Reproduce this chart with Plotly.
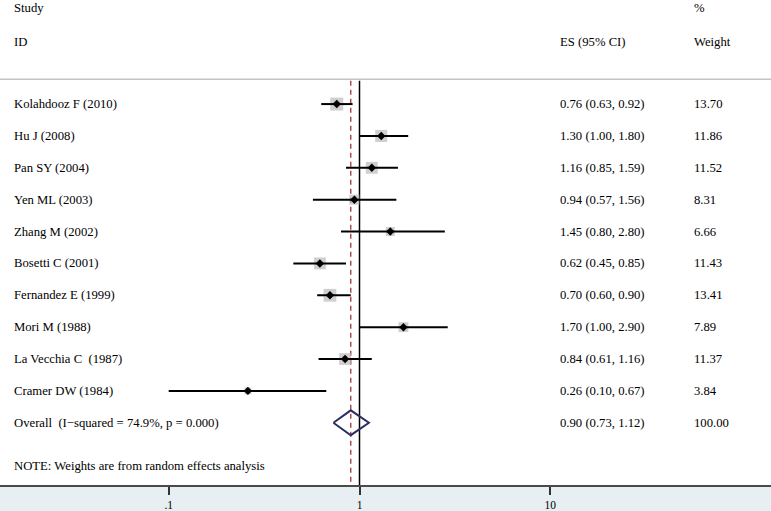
import numpy as np
import plotly.graph_objects as go

studies = ["Kolahdooz F (2010)", "Hu J (2008)", "Pan SY (2004)", "Yen ML (2003)",
           "Zhang M (2002)", "Bosetti C (2001)", "Fernandez E (1999)", "Mori M (1988)",
           "La Vecchia C  (1987)", "Cramer DW (1984)"]
es = [0.76, 1.30, 1.16, 0.94, 1.45, 0.62, 0.70, 1.70, 0.84, 0.26]
lo = [0.63, 1.00, 0.85, 0.57, 0.80, 0.45, 0.60, 1.00, 0.61, 0.10]
hi = [0.92, 1.80, 1.59, 1.56, 2.80, 0.85, 0.90, 2.90, 1.16, 0.67]
weights = [13.70, 11.86, 11.52, 8.31, 6.66, 11.43, 13.41, 7.89, 11.37, 3.84]

overall_label = "Overall  (I\u2212squared = 74.9%, p = 0.000)"
overall_es, overall_lo, overall_hi = 0.90, 0.73, 1.12
overall_weight = "100.00"
note = "NOTE: Weights are from random effects analysis"
tick_vals = [0.1, 1, 10]
tick_text = [".1", "1", "10"]

W, H = 771, 511
FONT = "Liberation Serif"
FS = 12.7
rows = list(range(len(studies)))
overall_row = len(studies)

# pixel geometry of layout
PLOT_BOTTOM = 487
ROW0 = 104.5
ROWH = 32.0
def yrow(px):
    return (px - ROW0) / ROWH

fig = go.Figure()

# reference lines
y_top, y_bot = yrow(81), yrow(PLOT_BOTTOM)
fig.add_trace(go.Scatter(x=[1, 1], y=[y_top, y_bot], mode="lines",
                         line=dict(color="black", width=1.5), hoverinfo="skip", showlegend=False))
fig.add_trace(go.Scatter(x=[overall_es, overall_es], y=[y_top, y_bot], mode="lines",
                         line=dict(color="#a0353a", width=1.3, dash="5px,4px"),
                         hoverinfo="skip", showlegend=False))

# weight boxes
fig.add_trace(go.Scatter(x=es, y=rows, mode="markers",
                         marker=dict(symbol="square", color="#bababa",
                                     size=[3.5 * np.sqrt(w) for w in weights],
                                     line=dict(width=0)),
                         hoverinfo="skip", showlegend=False))
# CI lines + point estimates
fig.add_trace(go.Scatter(x=es, y=rows, mode="markers",
                         marker=dict(symbol="diamond", color="black", size=6.5),
                         error_x=dict(type="data", symmetric=False,
                                      array=[h - e for h, e in zip(hi, es)],
                                      arrayminus=[e - l for e, l in zip(es, lo)],
                                      width=0, thickness=2, color="black"),
                         hoverinfo="skip", showlegend=False))
# overall diamond
dh = 0.39
fig.add_trace(go.Scatter(x=[overall_lo, overall_es, overall_hi, overall_es, overall_lo],
                         y=[overall_row, overall_row - dh, overall_row, overall_row + dh, overall_row],
                         mode="lines", line=dict(color="#2c2f62", width=2),
                         hoverinfo="skip", showlegend=False))

ann = []
def txt(xpx, y, s, size=FS):
    ann.append(dict(x=xpx / W, xref="paper", y=y, yref="y", text=s, showarrow=False,
                    xanchor="left", yanchor="middle", font=dict(family=FONT, size=size, color="black")))

txt(12, yrow(8), "Study")
txt(12, yrow(42), "ID")
txt(558, yrow(42), "ES (95% CI)")
txt(692, yrow(8), "%")
txt(692, yrow(42), "Weight")
for i, s in enumerate(studies):
    txt(12, i, s)
    txt(558, i, f"{es[i]:.2f} ({lo[i]:.2f}, {hi[i]:.2f})")
    txt(692, i, f"{weights[i]:.2f}")
txt(12, overall_row, overall_label)
txt(558, overall_row, f"{overall_es:.2f} ({overall_lo:.2f}, {overall_hi:.2f})")
txt(692, overall_row, overall_weight)
txt(12, yrow(468), note)

X1PX, DEC = 359.5, 190.8
x0 = -X1PX / DEC
x1 = (W - X1PX) / DEC

fig.update_layout(
    width=W, height=H,
    margin=dict(l=0, r=0, t=0, b=H - PLOT_BOTTOM),
    paper_bgcolor="#e7eff2", plot_bgcolor="white",
    annotations=ann,
    shapes=[dict(type="line", xref="paper", yref="y", x0=0, x1=1, y0=yrow(79.5), y1=yrow(79.5),
                 line=dict(color="#c4c4c4", width=1.5))],
    xaxis=dict(type="log", range=[x0, x1], tickvals=tick_vals, ticktext=tick_text,
               ticks="outside", ticklen=8, tickwidth=1.5, tickcolor="#333",
               showgrid=False, zeroline=False, showline=True, linecolor="#4a4a4a", linewidth=2,
               tickfont=dict(family=FONT, size=11.5, color="black")),
    yaxis=dict(range=[y_bot, yrow(0)], showgrid=False, zeroline=False, showticklabels=False,
               showline=False),
)

fig.write_html("out.html", config={"displayModeBar": False},
               post_script="document.body.style.margin='0';document.body.style.overflow='hidden';")
